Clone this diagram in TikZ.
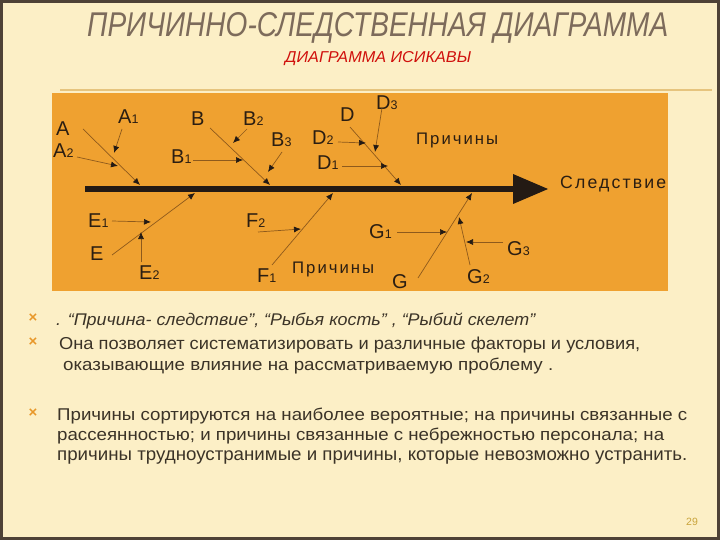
\documentclass[tikz,border=0pt]{standalone}
\usepackage{fontspec}
\setmainfont{Liberation Sans}
\usetikzlibrary{arrows.meta}
\definecolor{bgc}{HTML}{FCEFC6}
\definecolor{framec}{HTML}{4E4236}
\definecolor{rulec}{HTML}{E6C47E}
\definecolor{orangec}{HTML}{EFA130}
\definecolor{labc}{HTML}{2B1E12}
\definecolor{bonec}{HTML}{8E5A1C}
\definecolor{spinec}{HTML}{231A14}
\definecolor{titlec}{HTML}{7D6B5B}
\definecolor{subc}{HTML}{D0100C}
\definecolor{bulc}{HTML}{E8982A}
\definecolor{txtc}{HTML}{3B3327}
\definecolor{numc}{HTML}{C9A43C}
\newcommand{\lbl}[2]{{\fontsize{20}{23}\selectfont #1}{\fontsize{12.5}{14}\selectfont #2}}
\begin{document}
\begin{tikzpicture}[x=1pt,y=-1pt,
  lab/.style={text=labc, inner sep=0pt, anchor=base west},
  bone/.style={draw=bonec, line width=0.7pt, -{Latex[length=7pt,width=6pt,color=spinec]}},
  subarr/.style={draw=bonec, line width=0.7pt, -{Latex[length=7pt,width=6pt,color=spinec]}},
  word/.style={text=labc, inner sep=0pt, anchor=base west, font=\fontsize{15}{18}\selectfont},
  bul/.style={text=bulc, inner sep=0pt, font=\fontsize{15}{16}\selectfont\bfseries},
  line/.style={text=txtc, inner sep=0pt, anchor=base west}]
\useasboundingbox (0,0) rectangle (720,540);
% slide
\fill[bgc] (0,0) rectangle (720,540);
\draw[framec, line width=3pt] (1.5,1.5) rectangle (718.5,538.5);
\draw[rulec, line width=1.5pt] (60,90) -- (712,90);
% titles
\node[text=titlec, inner sep=0pt, anchor=base west] (title) at (87,37)
  {\resizebox{581pt}{24pt}{\itshape\vphantom{П}ПРИЧИННО-СЛЕДСТВЕННАЯ ДИАГРАММА}};
\node[text=subc, inner sep=0pt, anchor=base west] (sub) at (285,63)
  {\resizebox{186pt}{11pt}{\itshape\vphantom{П}ДИАГРАММА ИСИКАВЫ}};
% orange panel
\fill[orangec] (52,93) rectangle (668,291);
% spine
\coordinate (sp0) at (85,189);
\coordinate (sp1) at (514,189);
\draw[spinec, line width=6pt] (sp0) -- (sp1);
\fill[spinec] (513,174) -- (548,189) -- (513,204) -- cycle;
% labels
\node[lab] (A)  at (56,136) {\lbl{A}{}};
\node[lab] (A2) at (53,158) {\lbl{A}{2}};
\node[lab] (A1) at (118,124) {\lbl{A}{1}};
\node[lab] (B)  at (191,126) {\lbl{B}{}};
\node[lab] (B2) at (243,126) {\lbl{B}{2}};
\node[lab] (B3) at (271,147) {\lbl{B}{3}};
\node[lab] (B1) at (171,164) {\lbl{B}{1}};
\node[lab] (D)  at (340,122) {\lbl{D}{}};
\node[lab] (D3) at (376,110) {\lbl{D}{3}};
\node[lab] (D2) at (312,145) {\lbl{D}{2}};
\node[lab] (D1) at (317,170) {\lbl{D}{1}};
\node[lab] (E1) at (88,227) {\lbl{E}{1}};
\node[lab] (E)  at (90,260) {\lbl{E}{}};
\node[lab] (E2) at (139,279) {\lbl{E}{2}};
\node[lab] (F2) at (246,227) {\lbl{F}{2}};
\node[lab] (F1) at (257,282) {\lbl{F}{1}};
\node[lab] (G1) at (369,238) {\lbl{G}{1}};
\node[lab] (G)  at (392,288) {\lbl{G}{}};
\node[lab] (G2) at (467,283) {\lbl{G}{2}};
\node[lab] (G3) at (507,255) {\lbl{G}{3}};
\node[word] (pr1) at (416,145) {\resizebox{82pt}{!}{\addfontfeature{LetterSpace=12}Причины}};
\node[word] (pr2) at (292,273) {\resizebox{82pt}{!}{\addfontfeature{LetterSpace=12}Причины}};
\node[word] (sled) at (560,189) {\resizebox{106pt}{!}{\addfontfeature{LetterSpace=12}Следствие}};
% coordinates of bones
\coordinate (as) at (83,129);   \coordinate (at) at (140,185);
\coordinate (a1s) at (122,129); \coordinate (a1t) at (114,153);
\coordinate (a2s) at (77,157);  \coordinate (a2t) at (118,166);
\coordinate (bs) at (210,128);  \coordinate (bt) at (270,185);
\coordinate (b2s) at (247,129); \coordinate (b2t) at (233,143);
\coordinate (b1s) at (193,160); \coordinate (b1t) at (243,160);
\coordinate (b3s) at (282,152); \coordinate (b3t) at (268,172);
\coordinate (ds) at (350,127);  \coordinate (dt) at (401,185);
\coordinate (d2s) at (338,142); \coordinate (d2t) at (366,143);
\coordinate (d3s) at (382,108); \coordinate (d3t) at (375,152);
\coordinate (d1s) at (342,166); \coordinate (d1t) at (388,166);
\coordinate (es) at (112,255);  \coordinate (et) at (195,193);
\coordinate (e1s) at (112,221); \coordinate (e1t) at (151,222);
\coordinate (e2s) at (141,262); \coordinate (e2t) at (141,232);
\coordinate (fs) at (272,265);  \coordinate (ft) at (333,193);
\coordinate (f2s) at (258,232); \coordinate (f2t) at (301,229);
\coordinate (gs) at (418,278);  \coordinate (gt) at (472,193);
\coordinate (g1s) at (397,232); \coordinate (g1t) at (447,232);
\coordinate (g3s) at (503,242); \coordinate (g3t) at (466,242);
\coordinate (g2s) at (470,265); \coordinate (g2t) at (459,217);
% bones
\draw[bone] (as) -- (at);
\draw[bone] (bs) -- (bt);
\draw[bone] (ds) -- (dt);
\draw[bone] (es) -- (et);
\draw[bone] (fs) -- (ft);
\draw[bone] (gs) -- (gt);
\draw[subarr] (a1s) -- (a1t);
\draw[subarr] (a2s) -- (a2t);
\draw[subarr] (b2s) -- (b2t);
\draw[subarr] (b1s) -- (b1t);
\draw[subarr] (b3s) -- (b3t);
\draw[subarr] (d2s) -- (d2t);
\draw[subarr] (d3s) -- (d3t);
\draw[subarr] (d1s) -- (d1t);
\draw[subarr] (e1s) -- (e1t);
\draw[subarr] (e2s) -- (e2t);
\draw[subarr] (f2s) -- (f2t);
\draw[subarr] (g1s) -- (g1t);
\draw[subarr] (g3s) -- (g3t);
\draw[subarr] (g2s) -- (g2t);
% bullets
\node[bul] (k1) at (33,318) {×};
\node[bul] (k2) at (33,342) {×};
\node[bul] (k3) at (33,413) {×};
\node[line] (t1) at (56,325) {\resizebox{479pt}{12.5pt}{\itshape\vphantom{П}. “Причина- следствие”, “Рыбья кость” , “Рыбий скелет”}};
\node[line] (t2) at (59,349) {\resizebox{581pt}{12.5pt}{\vphantom{П}Она позволяет систематизировать и различные факторы и условия,}};
\node[line] (t3) at (63,370) {\resizebox{490pt}{12.5pt}{\vphantom{П}оказывающие влияние на рассматриваемую проблему .}};
\node[line] (t4) at (57,420) {\resizebox{630pt}{12.5pt}{\vphantom{П}Причины сортируются на наиболее вероятные; на причины связанные с}};
\node[line] (t5) at (57,440) {\resizebox{607pt}{12.5pt}{\vphantom{П}рассеянностью; и причины связанные с небрежностью персонала; на}};
\node[line] (t6) at (57,460) {\resizebox{630pt}{12.5pt}{\vphantom{П}причины трудноустранимые и причины, которые невозможно устранить.}};
\node[text=numc, inner sep=0pt, font=\fontsize{10.5}{12}\selectfont] (num) at (692,522) {29};
\end{tikzpicture}
\end{document}
